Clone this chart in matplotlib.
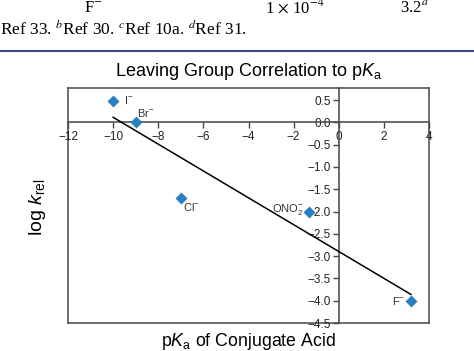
import matplotlib
matplotlib.use("Agg")
import matplotlib.pyplot as plt
from matplotlib.lines import Line2D
import numpy as np

plt.rcParams['font.family'] = ['Liberation Sans', 'DejaVu Sans']
plt.rcParams['mathtext.fontset'] = 'custom'
plt.rcParams['mathtext.rm'] = 'Liberation Sans'
plt.rcParams['mathtext.it'] = 'Liberation Sans:italic'

# leaving groups: pKa of conjugate acid vs log k_rel
groups = ['I$^{-}$', 'Br$^{-}$', 'Cl$^{-}$', 'ONO$_{2}^{-}$', 'F$^{-}$']
pka = [-10.0, -9.0, -7.0, -1.3, 3.2]
log_krel = [0.47, 0.0, -1.7, -2.0, -4.0]
label_offsets = [(8, 1), (1, 7), (1.5, -6.5), (-4, 1.5), (-4, 0)]
label_ha = ['left', 'left', 'left', 'right', 'right']

xticks = [-12, -10, -8, -6, -4, -2, 0, 2, 4]
yticks = [0.5, 0.0, -0.5, -1.0, -1.5, -2.0, -2.5, -3.0, -3.5, -4.0, -4.5]

W, H = 474, 351
fig = plt.figure(figsize=(W / 100, H / 100), dpi=100)
pos = [68 / W, 1 - 323 / H, (429 - 68) / W, (323 - 88) / H]

# outer frame
frame = fig.add_axes(pos)
frame.set_xticks([])
frame.set_yticks([])
frame.patch.set_alpha(0)
for s in frame.spines.values():
    s.set_color('#555555')
    s.set_linewidth(1.2)

ax = fig.add_axes(pos)
ax.patch.set_alpha(0)
ax.spines['left'].set_position(('data', 0))
ax.spines['bottom'].set_position(('data', 0))
ax.spines['top'].set_visible(False)
ax.spines['right'].set_visible(False)
for s in ['left', 'bottom']:
    ax.spines[s].set_color('#444444')
    ax.spines[s].set_linewidth(1.1)

ax.set_xlim(-12, 4)
ax.set_ylim(-4.5, 0.77)
ax.set_xticks(xticks)
ax.set_yticks(yticks)
ax.set_xticklabels([f"{t:g}".replace('-', '\u2212') for t in xticks])
ax.set_yticklabels([f"{t:.1f}".replace('-', '\u2212') for t in yticks])
ax.tick_params(axis='both', direction='out', length=4, width=1, color='#444444',
               labelsize=8.5, labelcolor='#222222')
ax.tick_params(axis='x', pad=2.5)
ax.tick_params(axis='y', pad=1.5)

# linear fit
k, b = np.polyfit(pka, log_krel, 1)
xf = np.array([min(pka), max(pka)])
ax.plot(xf, k * xf + b, color='black', lw=1.1, zorder=3)

ax.plot(pka, log_krel, 'D', color='#2a7fc1', ms=6, mec='none', zorder=4)
for name, x, y, off, ha in zip(groups, pka, log_krel, label_offsets, label_ha):
    ax.annotate(name, (x, y), xytext=off, textcoords='offset points',
                ha=ha, va='center', fontsize=8, color='#333333')

cx = (68 + 429) / 2 / W
fig.text(cx, 1 - 72 / H, r'Leaving Group Correlation to p$K_\mathrm{a}$',
         ha='center', va='center', fontsize=13)
fig.text(cx, 1 - 341 / H, r'p$K_\mathrm{a}$ of Conjugate Acid',
         ha='center', va='center', fontsize=12.8)
fig.text(38 / W, 1 - 207 / H, r'log $k_\mathrm{rel}$', rotation=90,
         ha='center', va='center', fontsize=14)

# bits of the page above the figure
serif = ['Liberation Serif', 'DejaVu Serif']
fig.text(84 / W, 1 - 12.5 / H, 'F$^{-}$', family=serif, fontsize=12,
         math_fontfamily='stix', va='baseline')
fig.text(265 / W, 1 - 12.5 / H, r'1 $\times$ 10$^{-4}$', family=serif, fontsize=12,
         math_fontfamily='stix', va='baseline')
fig.text(400 / W, 1 - 12.5 / H, '3.2$^{a}$', family=serif, fontsize=12,
         math_fontfamily='stix', va='baseline')
fig.text(0, 1 - 35 / H, 'Ref 33. $^{b}$Ref 30. $^{c}$Ref 10a. $^{d}$Ref 31.',
         family=serif, fontsize=12.5, math_fontfamily='stix', va='baseline')
fig.add_artist(Line2D([0, 1], [1 - 50.5 / H, 1 - 50.5 / H], transform=fig.transFigure,
                      color='#3f4a8a', lw=1.5))

fig.savefig('out.png', dpi=100)
